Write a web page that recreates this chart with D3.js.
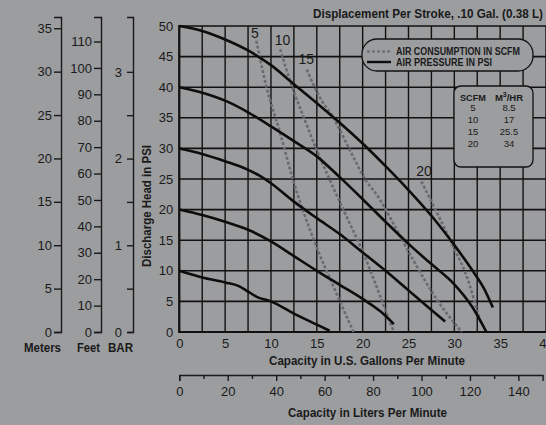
<!DOCTYPE html>
<html><head><meta charset="utf-8">
<script src="https://cdn.jsdelivr.net/npm/d3@7"></script>
<style>
html,body{margin:0;padding:0;background:#9c9d9f;}
svg{display:block;}
text{font-family:"Liberation Sans",Arial,sans-serif;fill:#1a1a1a;}
.b{font-weight:bold;}
</style></head>
<body>
<div id="chart"></div>
<script>
// ---- data ----
const gpmTicks = [0,5,10,15,20,25,30,35,40];
const psiTicks = [0,5,10,15,20,25,30,35,40,45,50];
const meterTicks = [0,5,10,15,20,25,30,35];
const feetTicks = [0,10,20,30,40,50,60,70,80,90,100,110];
const barTicks = [0,0.5,1,1.5,2,2.5,3];
const barLabels = [0,1,2,3];
const lpmTicks = [0,20,40,60,80,100,120,140];
const lpmMinor = [10,30,50,70,90,110,130];

// air pressure curves (GPM, PSI)
const p50 = [[0,50],[2.5,49.2],[5,47.8],[7.5,46],[10,43.6],[12.5,40.5],[15,37.4],[17.5,34.2],[20,30.8],[22.5,27.1],[25,23.2],[27.5,19],[30,14.2],[32,10],[33.2,7.2],[34.2,4]];
const p40 = [[0,40],[2.5,39.1],[5,37.8],[7.5,35.9],[10,33.6],[12.5,31.2],[15,28.7],[17.5,25.3],[20,21.7],[22.5,18],[25,14.4],[27.5,11.1],[30,7.8],[32,4],[33.5,0]];
const p30 = [[0,30],[2.5,29.1],[5,27.9],[7.5,26.5],[8.8,25.5],[10,24.3],[12.5,21.3],[15,18.6],[17.5,16],[20,13],[22.5,10],[25,6.8],[27.5,3.6],[29,1.7]];
const p20 = [[0,20],[2.5,19.1],[5,18],[7.5,16.7],[10,14.8],[12.5,12.4],[15,10],[17.5,7.7],[20,5.4],[22,3.3],[23.4,1.3]];
const p10 = [[0,10],[2.5,8.9],[5,8.1],[6.5,7.5],[7.5,6.6],[8.5,5.7],[10,5],[12.5,3],[15,1.2],[16.4,0.2]];
const pressureSeries = [p50,p40,p30,p20,p10];

// air consumption curves (GPM, PSI)
const scfm5 = [[8.4,47.6],[9.5,40.1],[11,32.5],[12.3,25.4],[15,13.8],[17,6.8],[19,0]];
const scfm10 = [[11,46.2],[12.3,40.1],[13.7,34.6],[15,29.7],[16.4,24.9],[18.2,19],[20.1,12.8],[22,5.5],[23.4,0]];
const scfm15 = [[13.9,42.9],[15.3,38.4],[16.8,35],[18.25,30.8],[20.1,25.4],[21.9,21.6],[23.5,17.3],[25.5,11.8],[28,5.5],[30.8,0]];
const scfm20 = [[26.4,24.6],[28,19.8],[29.9,13.9],[31.3,9.3],[32.6,3],[32.8,2]];
const airSeries = [scfm5,scfm10,scfm15,scfm20];
const airLabels = ["5","10","15","20"];

const tableScfm = ["5","10","15","20"];
const tableM3 = ["8.5","17","25.5","34"];

// unit conversions
const PSI_PER_M = 1.418, PSI_PER_FT = 0.4315, PSI_PER_BAR = 14.17, LPM_PER_GPM = 3.785;

// ---- drawing ----
const W = 546, H = 425, BG = "#9c9d9f";
const svg = d3.select("#chart").append("svg").attr("width",W).attr("height",H);
svg.append("rect").attr("width",W).attr("height",H).attr("fill",BG);

const x = d3.scaleLinear().domain([0,40]).range([179.3,546]);
const y = d3.scaleLinear().domain([0,50]).range([332,26]);
const topPsi = y.invert(17);

// grid
const g = svg.append("g");
g.selectAll(".vg").data(d3.range(0,40.01,2.5)).join("line")
  .attr("x1",d=>x(d)).attr("x2",d=>x(d)).attr("y1",y(0)).attr("y2",y(50))
  .attr("stroke","#111").attr("stroke-width",1.4);
g.selectAll(".hg").data(psiTicks).join("line")
  .attr("x1",x(0)).attr("x2",x(40)).attr("y1",d=>y(d)).attr("y2",d=>y(d))
  .attr("stroke","#111").attr("stroke-width",1.6);
g.append("line").attr("x1",x(0)).attr("x2",x(0)).attr("y1",y(0)+1).attr("y2",y(50)-1).attr("stroke","#111").attr("stroke-width",2.2);
g.append("line").attr("x1",x(0)-1).attr("x2",x(40)).attr("y1",y(0)).attr("y2",y(0)).attr("stroke","#111").attr("stroke-width",2.2);

// psi axis labels
const yAx = svg.append("g").attr("transform",`translate(${x(0)},0)`)
  .call(d3.axisLeft(y).tickValues(psiTicks).tickSize(0).tickPadding(6));
yAx.select(".domain").remove();
yAx.selectAll("text").style("font-size","13px").attr("fill","#1a1a1a");

// gpm axis labels
const xAx = svg.append("g").attr("transform",`translate(0,${y(0)})`)
  .call(d3.axisBottom(x).tickValues(gpmTicks).tickSize(0).tickPadding(7));
xAx.select(".domain").remove();
xAx.selectAll("text").style("font-size","13px").attr("fill","#1a1a1a");

function styleAxis(sel){
  sel.select(".domain").attr("stroke","#1a1a1a").attr("stroke-width",1.4);
  sel.selectAll(".tick line").attr("stroke","#1a1a1a").attr("stroke-width",1.4);
  sel.selectAll("text").style("font-size","13px").attr("fill","#1a1a1a");
}

// meters axis
const yM = d3.scaleLinear().domain([0, topPsi/PSI_PER_M]).range([332,17]);
svg.append("g").attr("transform","translate(61,0)")
  .call(d3.axisLeft(yM).tickValues(meterTicks).tickSize(7).tickSizeOuter(7).tickPadding(2)).call(styleAxis);
// feet axis
const yF = d3.scaleLinear().domain([0, topPsi/PSI_PER_FT]).range([332,17]);
svg.append("g").attr("transform","translate(101,0)")
  .call(d3.axisLeft(yF).tickValues(feetTicks).tickSize(7).tickSizeOuter(7).tickPadding(2)).call(styleAxis);
// bar axis
const yB = d3.scaleLinear().domain([0, topPsi/PSI_PER_BAR]).range([332,17]);
svg.append("g").attr("transform","translate(133,0)")
  .call(d3.axisLeft(yB).tickValues(barTicks).tickSize(6).tickSizeOuter(6).tickPadding(5)
    .tickFormat(d=>barLabels.includes(d)?d3.format("d")(d):"")).call(styleAxis);

// liters axis
const xL = d3.scaleLinear().domain([0,150]).range([x(0), x(150/LPM_PER_GPM)]);
svg.append("g").attr("transform","translate(0,375)")
  .call(d3.axisBottom(xL).tickValues(lpmTicks).tickSize(6).tickSizeOuter(6).tickPadding(6)).call(styleAxis);
const lm = svg.append("g").attr("transform","translate(0,375)")
  .call(d3.axisBottom(xL).tickValues(lpmMinor).tickSize(4).tickFormat(""));
lm.select(".domain").remove();
lm.selectAll(".tick line").attr("stroke","#1a1a1a").attr("stroke-width",1.4);

// titles
function ttl(t,xx,yy,len,size,anchor,rot){
  const e = svg.append("text").attr("class","b").text(t).style("font-size",size+"px")
    .attr("text-anchor",anchor||"middle").attr("textLength",len).attr("lengthAdjust","spacingAndGlyphs");
  if(rot) e.attr("transform",`translate(${xx},${yy}) rotate(-90)`); else e.attr("x",xx).attr("y",yy);
  return e;
}
ttl("Capacity in U.S. Gallons Per Minute",367,365,196,12.5);
ttl("Capacity in Liters Per Minute",367.5,417,159,12.5);
ttl("Displacement Per Stroke, .10 Gal. (0.38 L)",428,18,230,12.5);
ttl("Discharge Head in PSI",151,206,122,12.5,"middle",true);
ttl("Meters",42.5,352,37,12.5);
ttl("Feet",88.5,352,23,12.5);
ttl("BAR",120.5,352,25,12.5);

// curves
const line = d3.line().x(d=>x(d[0])).y(d=>y(d[1])).curve(d3.curveMonotoneX);
svg.append("g").selectAll("path").data(airSeries).join("path")
  .attr("d",line).attr("fill","none").attr("stroke","#6a6b6e").attr("stroke-width",2.6)
  .attr("stroke-dasharray","3,2");
svg.append("g").selectAll("path").data(pressureSeries).join("path")
  .attr("d",line).attr("fill","none").attr("stroke","#0d0d0d").attr("stroke-width",2.6)
  .attr("stroke-linecap","butt");

// air labels (centre positions)
const labPos = [[8.25,48.8],[11.25,47.7],[13.85,44.6],[26.7,26.3]];
svg.append("g").selectAll("text").data(airLabels).join("text")
  .attr("x",(d,i)=>x(labPos[i][0])).attr("y",(d,i)=>y(labPos[i][1])).attr("dy","0.36em")
  .attr("text-anchor","middle").style("font-size","14px").text(d=>d);

// legend box
const leg = svg.append("g");
leg.append("rect").attr("x",362).attr("y",39).attr("width",171).attr("height",32).attr("rx",15)
  .attr("fill",BG).attr("stroke","#111").attr("stroke-width",1.3);
leg.append("line").attr("x1",367).attr("x2",391).attr("y1",51.5).attr("y2",51.5)
  .attr("stroke","#6a6b6e").attr("stroke-width",2.2).attr("stroke-dasharray","3,2");
leg.append("line").attr("x1",367).attr("x2",391).attr("y1",62).attr("y2",62)
  .attr("stroke","#0d0d0d").attr("stroke-width",2.4);
leg.append("text").attr("class","b").attr("x",396).attr("y",54.5).style("font-size","10px")
  .attr("textLength",124).attr("lengthAdjust","spacingAndGlyphs").text("AIR CONSUMPTION IN SCFM");
leg.append("text").attr("class","b").attr("x",396).attr("y",66).style("font-size","10px")
  .attr("textLength",96).attr("lengthAdjust","spacingAndGlyphs").text("AIR PRESSURE IN PSI");

// table box
const tb = svg.append("g");
tb.append("rect").attr("x",454).attr("y",86).attr("width",79).attr("height",81).attr("rx",7)
  .attr("fill",BG).attr("stroke","#111").attr("stroke-width",1.3);
tb.append("text").attr("class","b").attr("x",473).attr("y",100.5).attr("text-anchor","middle")
  .style("font-size","9.5px").attr("textLength",26).attr("lengthAdjust","spacingAndGlyphs").text("SCFM");
const mh = tb.append("text").attr("class","b").attr("x",509).attr("y",100.5).attr("text-anchor","middle")
  .style("font-size","9.5px");
mh.append("tspan").text("M");
mh.append("tspan").attr("dy",-4).style("font-size","7px").text("3");
mh.append("tspan").attr("dy",4).text("/HR");
const rowY = [111,122.5,134.5,146.5];
tb.selectAll(".c1").data(tableScfm).join("text").attr("x",473).attr("y",(d,i)=>rowY[i])
  .attr("text-anchor","middle").style("font-size","9.5px").text(d=>d);
tb.selectAll(".c2").data(tableM3).join("text").attr("x",509).attr("y",(d,i)=>rowY[i])
  .attr("text-anchor","middle").style("font-size","9.5px").text(d=>d);
</script>
</body></html>
